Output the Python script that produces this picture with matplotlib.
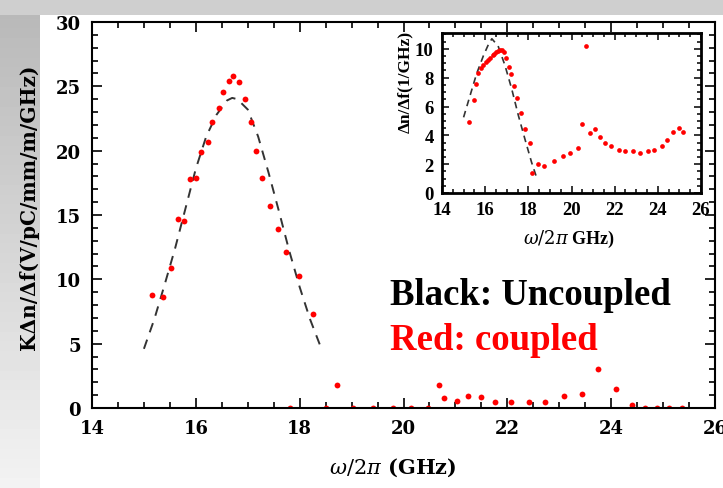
import numpy as np
import matplotlib
matplotlib.use("Agg")
import matplotlib.pyplot as plt
from matplotlib.ticker import MultipleLocator

plt.rcParams["font.family"] = ["DejaVu Serif"]
plt.rcParams["mathtext.fontset"] = "dejavuserif"

# main plot: coupled (red dots)
main_x = [15.16, 15.37, 15.53, 15.65, 15.78, 15.89, 16.01, 16.10, 16.23, 16.32,
          16.44, 16.53, 16.63, 16.72, 16.84, 16.94, 17.06, 17.15, 17.28, 17.43,
          17.58, 17.73, 17.82, 17.99, 18.26, 18.51, 18.71, 19.03, 19.42, 19.79,
          20.14, 20.47, 20.68, 20.78, 21.03, 21.24, 21.49, 21.76, 22.07, 22.41,
          22.72, 23.10, 23.43, 23.75, 24.10, 24.41, 24.65, 24.89, 25.11, 25.37]
main_y = [8.8, 8.6, 10.9, 14.7, 14.5, 17.8, 17.9, 19.9, 20.7, 22.2,
          23.3, 24.55, 25.4, 25.8, 25.3, 24.05, 22.2, 19.95, 17.85, 15.7,
          13.9, 12.15, 0.0, 10.25, 7.3, 0.0, 1.8, 0.0, 0.0, 0.0,
          0.0, 0.0, 1.8, 0.8, 0.57, 0.96, 0.82, 0.44, 0.44, 0.44,
          0.44, 0.96, 1.09, 3.03, 1.45, 0.25, 0.0, 0.0, 0.0, 0.0]

# main plot: uncoupled (black dashed)
unc_x = [15.0, 15.2, 15.4, 15.6, 15.8, 16.0, 16.2, 16.4, 16.6, 16.7,
         16.8, 17.0, 17.2, 17.4, 17.6, 17.8, 18.0, 18.2, 18.4]
unc_y = [4.6, 6.9, 9.6, 12.4, 15.5, 18.6, 21.1, 22.8, 23.9, 24.1,
         24.0, 23.2, 21.1, 18.3, 15.3, 12.2, 9.4, 6.9, 4.8]

# inset: coupled (red dots)
ins_x = [15.27, 15.49, 15.58, 15.69, 15.81, 15.92, 16.03, 16.12, 16.23, 16.34,
         16.43, 16.52, 16.61, 16.70, 16.80, 16.89, 16.95, 17.10, 17.20, 17.34,
         17.49, 17.66, 17.84, 18.08, 18.15, 18.46, 18.74, 19.20, 19.61, 19.92,
         20.30, 20.50, 20.66, 20.88, 21.10, 21.32, 21.55, 21.85, 22.20, 22.50,
         22.84, 23.18, 23.54, 23.84, 24.20, 24.43, 24.72, 24.97, 25.18]
ins_y = [4.91, 6.46, 7.57, 8.31, 8.66, 8.89, 9.07, 9.21, 9.38, 9.54,
         9.65, 9.77, 9.86, 9.90, 9.90, 9.81, 9.35, 8.77, 8.26, 7.45,
         6.58, 5.56, 4.44, 3.47, 1.39, 2.01, 1.90, 2.20, 2.59, 2.78,
         3.13, 4.79, 10.23, 4.14, 4.44, 3.91, 3.47, 3.24, 2.99, 2.90,
         2.90, 2.78, 2.90, 2.99, 3.24, 3.68, 4.26, 4.49, 4.26]

# inset: uncoupled (black dashed)
ins_unc_x = [15.0, 15.3, 15.6, 15.92, 16.15, 16.31, 16.6, 16.92, 17.23, 17.54, 17.84, 18.15, 18.38]
ins_unc_y = [5.25, 6.76, 8.26, 9.53, 10.3, 10.7, 10.2, 8.84, 7.22, 5.37, 3.75, 2.13, 1.09]

TIMES = "Liberation Serif"

fig = plt.figure(figsize=(7.23, 4.89), dpi=100)
fig.patch.set_facecolor("white")

# grey slide background strips (top and left)
bg = fig.add_axes([0, 0, 40 / 723, 1])
grad = np.linspace(0.72, 0.95, 50).reshape(-1, 1)
bg.imshow(grad, cmap="gray", vmin=0, vmax=1, aspect="auto", extent=[0, 1, 1, 0])
bg.axis("off")
top = fig.add_axes([0, 1 - 16 / 489, 1, 16 / 489])
top.set_facecolor("#cfcfcf")
top.set_xticks([])
top.set_yticks([])
for s in top.spines.values():
    s.set_visible(False)

ax = fig.add_axes([92 / 723, 80 / 489, 623 / 723, 386 / 489])
ax.plot(unc_x, unc_y, color="#333333", lw=1.4, dashes=(5, 4))
ax.plot(main_x, main_y, "o", color="red", ms=4.2, mec="none")
ax.set_xlim(14, 26)
ax.set_ylim(0, 30)
ax.xaxis.set_major_locator(MultipleLocator(2))
ax.xaxis.set_minor_locator(MultipleLocator(0.5))
ax.yaxis.set_major_locator(MultipleLocator(5))
ax.yaxis.set_minor_locator(MultipleLocator(1))
ax.tick_params(which="both", direction="in", top=True, right=True, width=1.2)
ax.tick_params(which="major", length=7, labelsize=13, pad=8)
ax.tick_params(which="minor", length=4)
for lab in ax.get_xticklabels() + ax.get_yticklabels():
    lab.set_fontweight("bold")
for s in ax.spines.values():
    s.set_linewidth(1.5)
ax.set_xlabel(r"$\omega/2\pi$ (GHz)", fontsize=15, fontweight="bold")
ax.xaxis.set_label_coords(0.483, -0.122)
ax.set_ylabel("KΔn/Δf(V/pC/mm/m/GHz)", fontsize=14.5, fontweight="bold")
ax.yaxis.set_label_coords(-0.085, 0.522)

ax.text(0.478, 0.269, "Black: Uncoupled", transform=ax.transAxes, fontsize=26.5,
        fontweight="bold", color="black", family=TIMES)
ax.text(0.478, 0.153, "Red: coupled", transform=ax.transAxes, fontsize=26.5,
        fontweight="bold", color="red", family=TIMES)

ins = fig.add_axes([442 / 723, 295 / 489, 259 / 723, 160 / 489])
ins.plot(ins_unc_x, ins_unc_y, color="#333333", lw=1.2, dashes=(4, 3))
ins.plot(ins_x, ins_y, "o", color="red", ms=3.4, mec="none")
ins.set_xlim(14, 26)
ins.set_ylim(0, 11.1)
ins.xaxis.set_major_locator(MultipleLocator(2))
ins.xaxis.set_minor_locator(MultipleLocator(0.5))
ins.yaxis.set_major_locator(MultipleLocator(2))
ins.yaxis.set_minor_locator(MultipleLocator(0.5))
ins.tick_params(which="both", direction="in", top=True, right=True, width=1.1)
ins.tick_params(which="major", length=5, labelsize=13.5, pad=6)
ins.tick_params(which="minor", length=3)
for lab in ins.get_xticklabels() + ins.get_yticklabels():
    lab.set_fontweight("bold")
    lab.set_family(TIMES)
for s in ins.spines.values():
    s.set_linewidth(2)
ins.set_xlabel(r"$\omega/2\pi$ GHz)", fontsize=13, fontweight="bold", family=TIMES)
ins.xaxis.set_label_coords(0.49, -0.215)
ins.set_ylabel("Δn/Δf(1/GHz)", fontsize=12.5, fontweight="bold", family=TIMES)
ins.yaxis.set_label_coords(-0.112, 0.70)

fig.savefig("out.png", dpi=100)
